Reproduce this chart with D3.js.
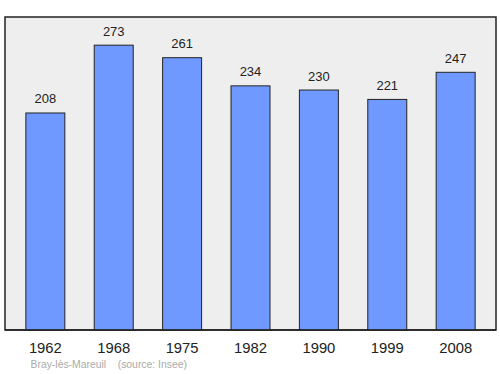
<!DOCTYPE html>
<meta charset="utf-8">
<style>
    body { margin: 0; background: #fff; }
    text { font-family: "Liberation Sans", Arial, sans-serif; }
</style>
<svg width="500" height="374"></svg>
<script src="https://d3js.org/d3.v7.min.js"></script>
<script>
    var years = ["1962", "1968", "1975", "1982", "1990", "1999", "2008"];
    var population = [208, 273, 261, 234, 230, 221, 247];
    var yDomain = [0, 300];

    var svg = d3.select("svg"),
        plotLeft = 5, plotRight = 496, plotTop = 17, plotBottom = 330;

    var x = d3.scaleBand().domain(years).range([plotLeft, plotRight])
        .paddingInner(0.43).paddingOuter(0.305);
    var y = d3.scaleLinear().domain(yDomain).range([plotBottom, plotTop]);

    svg.append("rect")
        .attr("x", plotLeft).attr("y", plotTop)
        .attr("width", plotRight - plotLeft).attr("height", plotBottom - plotTop)
        .attr("fill", "#eeeeee")
        .attr("stroke", "#222").attr("stroke-width", 1.5);

    var data = years.map(function (d, i) { return { year: d, value: population[i] }; });

    svg.selectAll(".bar")
        .data(data)
        .enter().append("rect")
        .attr("class", "bar")
        .attr("x", function (d) { return x(d.year); })
        .attr("y", function (d) { return y(d.value); })
        .attr("width", x.bandwidth())
        .attr("height", function (d) { return plotBottom - y(d.value); })
        .attr("fill", "#7099ff")
        .attr("stroke", "#222").attr("stroke-width", 1);

    svg.selectAll(".val")
        .data(data)
        .enter().append("text")
        .attr("x", function (d) { return x(d.year) + x.bandwidth() / 2; })
        .attr("y", function (d) { return y(d.value) - 9.5; })
        .attr("text-anchor", "middle")
        .attr("font-size", 13)
        .attr("fill", "#222")
        .text(function (d) { return d.value; });

    // redraw frame bottom line over bars
    svg.append("line")
        .attr("x1", plotLeft).attr("x2", plotRight)
        .attr("y1", plotBottom).attr("y2", plotBottom)
        .attr("stroke", "#222").attr("stroke-width", 1.5);

    svg.append("g")
        .selectAll("text")
        .data(years)
        .enter().append("text")
        .attr("x", function (d) { return x(d) + x.bandwidth() / 2; })
        .attr("y", 352.5)
        .attr("text-anchor", "middle")
        .attr("font-size", 14.8)
        .attr("fill", "#222")
        .text(function (d) { return d; });

    svg.append("text")
        .attr("x", 30.5).attr("y", 368)
        .attr("font-size", 10.4)
        .attr("fill", "#aaa")
        .attr("xml:space", "preserve")
        .text("Bray-lès-Mareuil    (source: Insee)");
</script>
